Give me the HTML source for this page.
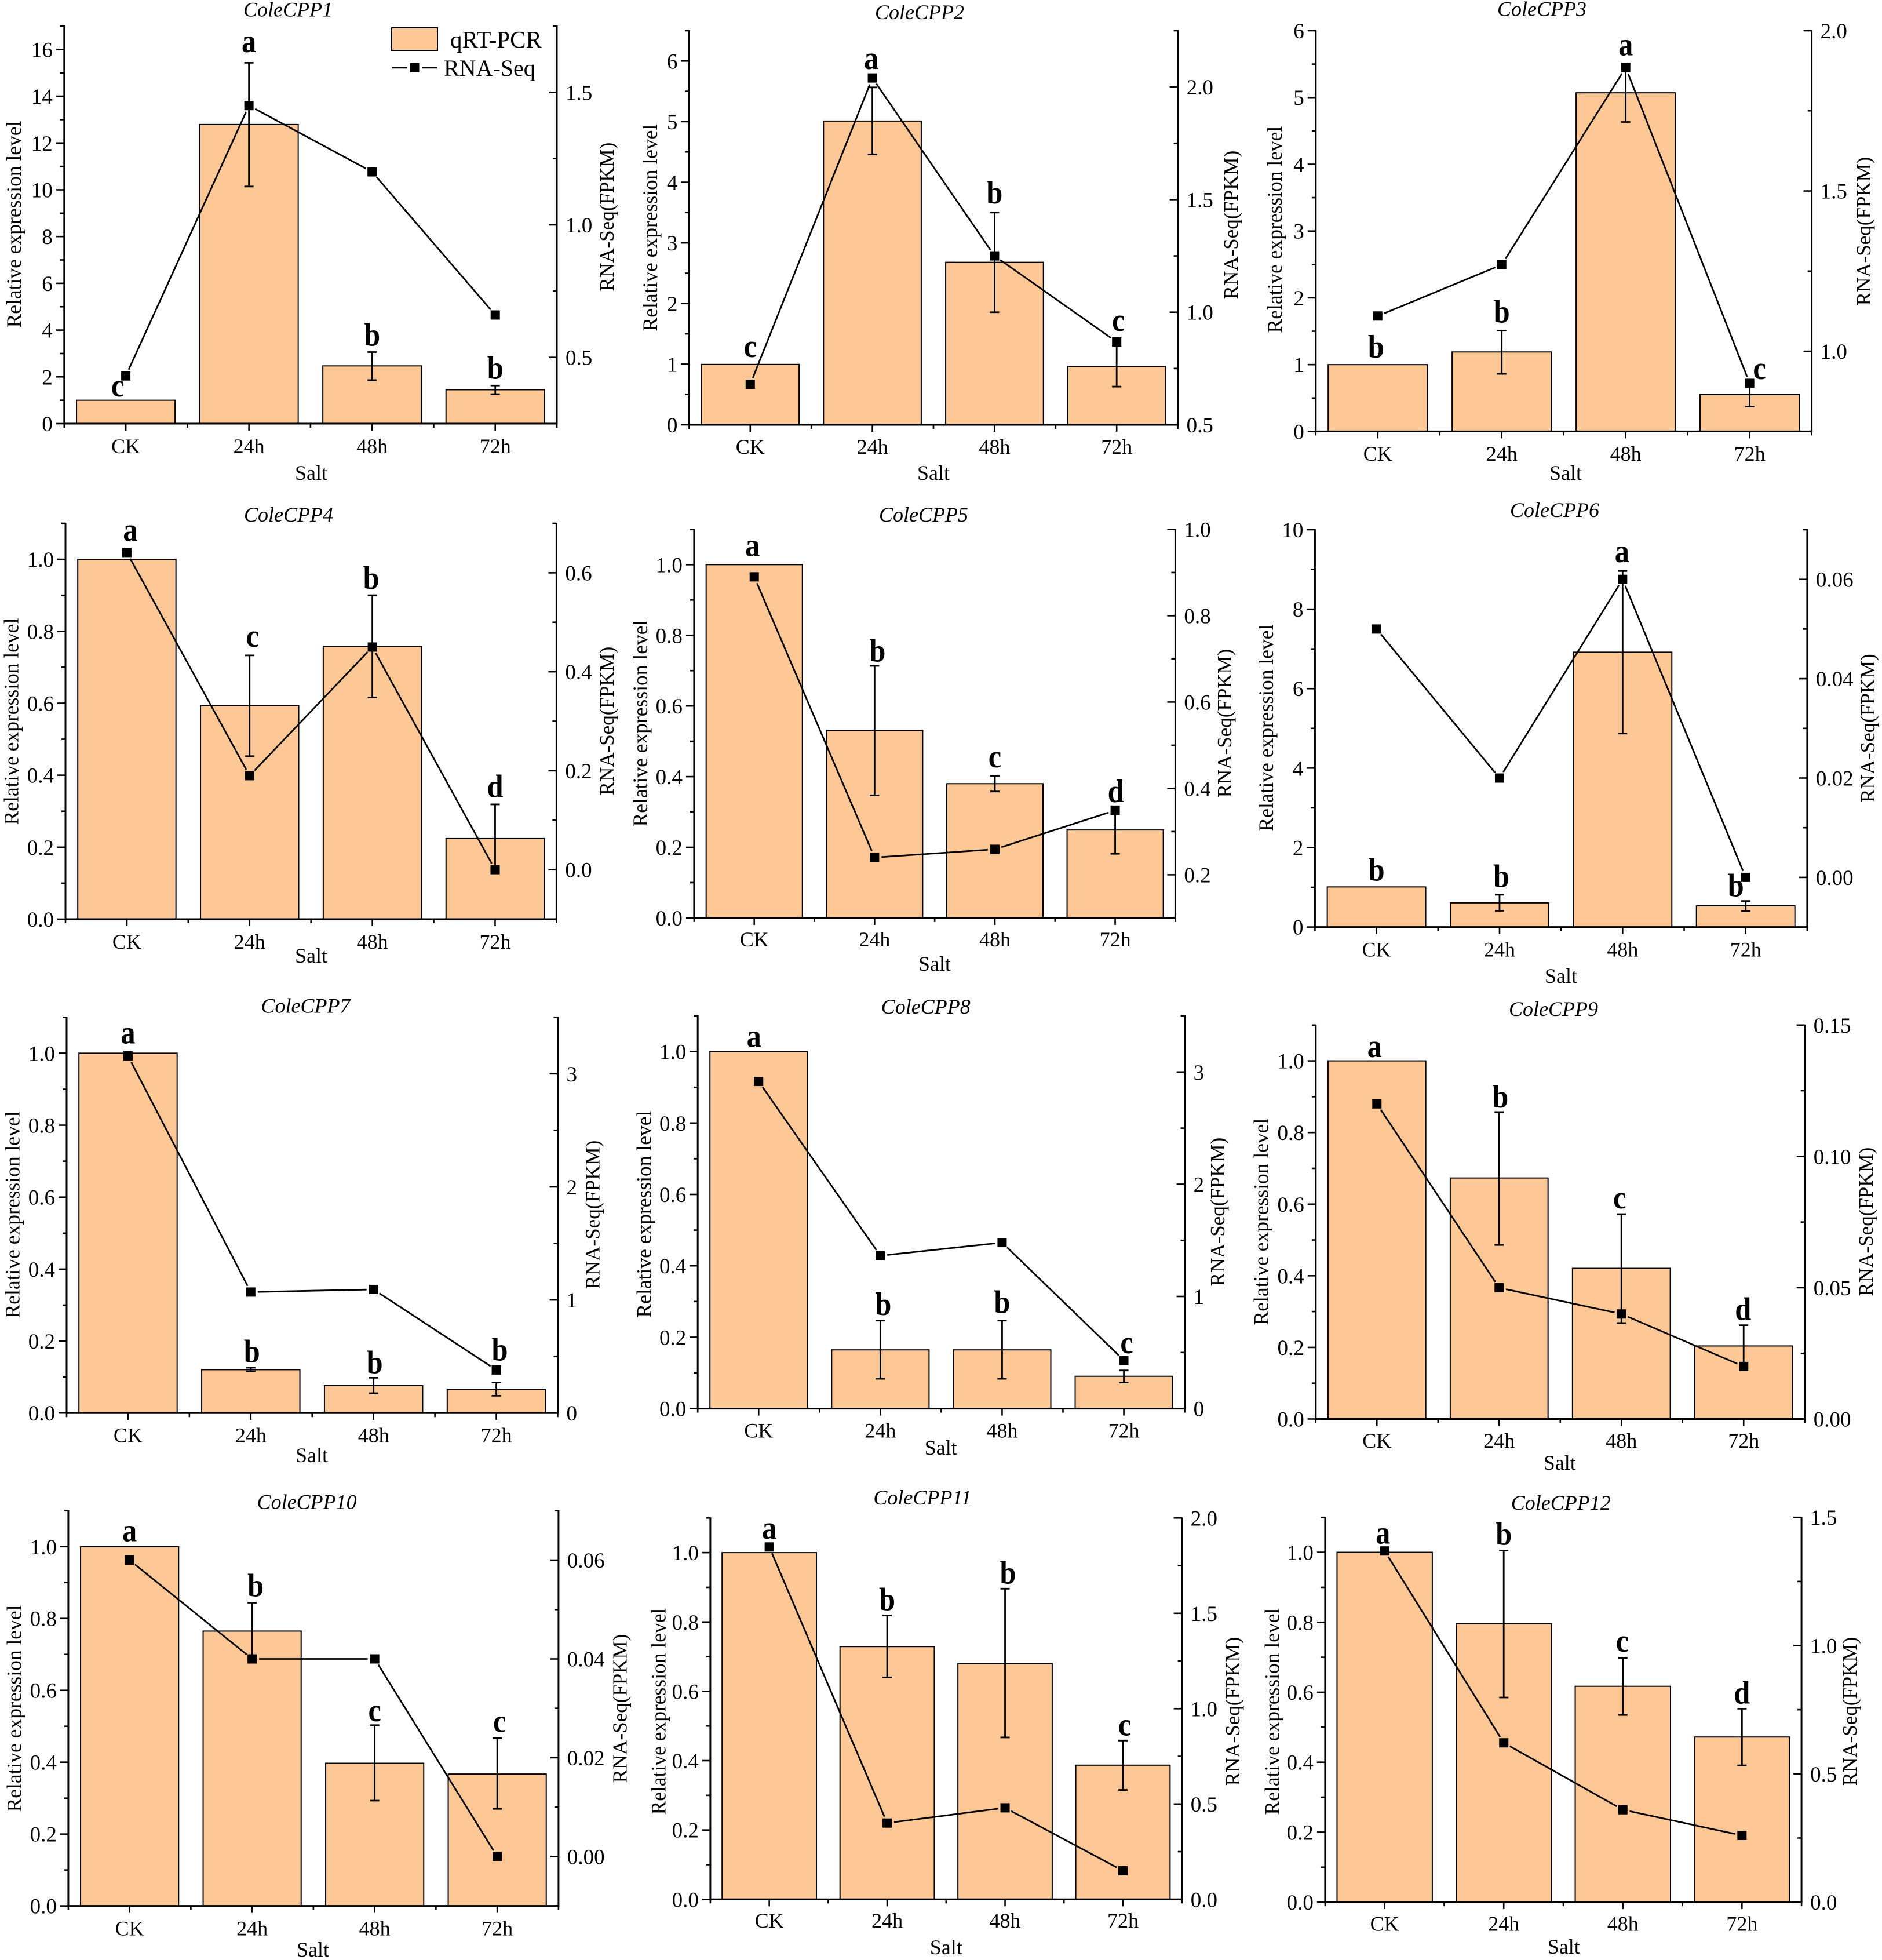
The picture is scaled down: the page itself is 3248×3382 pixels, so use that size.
<!DOCTYPE html>
<html lang="en">
<head>
<meta charset="utf-8">
<title>ColeCPP expression figure</title>
<style>
html,body{margin:0;padding:0;background:#fff;}
svg{display:block;}
text{font-family:"Liberation Serif","Times New Roman",serif;fill:#000;}
</style>
</head>
<body>
<svg id="figure" xmlns="http://www.w3.org/2000/svg" width="3248" height="3382" viewBox="0 0 3248 3382">
<rect x="0" y="0" width="3248" height="3382" fill="#ffffff"/>
<g id="panels"></g>
<g>
  <rect x="676" y="48" width="79" height="39" fill="#FDC896" stroke="#000" stroke-width="2"/>
  <text x="777" y="82" font-size="41">qRT-PCR</text>
  <line x1="676" y1="117" x2="703" y2="117" stroke="#000" stroke-width="2.5"/>
  <line x1="728" y1="117" x2="755" y2="117" stroke="#000" stroke-width="2.5"/>
  <rect x="707.5" y="109" width="16" height="16" fill="#000"/>
  <text x="766" y="131" font-size="40">RNA-Seq</text>
</g>
</svg>
<script>
const categories = ['CK', '24h', '48h', '72h'];

const fracTicks = ['0.0', '0.2', '0.4', '0.6', '0.8', '1.0'];

const leftTicks1 = ['0', '2', '4', '6', '8', '10', '12', '14', '16'];
const rightTicks1 = ['0.5', '1.0', '1.5'];
const qpcr1 = [1, 12.79, 2.47, 1.45];
const errHigh1 = [null, 15.43, 3.06, 1.63];
const errLow1 = [null, 10.14, 1.86, 1.26];
const rna1 = [0.43, 1.45, 1.2, 0.66];
const letters1 = ['c', 'a', 'b', 'b'];
const letterAt1 = [1.16, 15.88, 3.33, 1.92];

const leftTicks2 = ['0', '1', '2', '3', '4', '5', '6'];
const rightTicks2 = ['0.5', '1.0', '1.5', '2.0'];
const qpcr2 = [0.996, 5.01, 2.68, 0.965];
const errHigh2 = [null, 5.565, 3.5, 1.3];
const errLow2 = [null, 4.458, 1.857, 0.63];
const rna2 = [0.68, 2.04, 1.25, 0.868];
const letters2 = ['c', 'a', 'b', 'c'];
const letterAt2 = [1.12, 5.87, 3.65, 1.55];

const leftTicks3 = ['0', '1', '2', '3', '4', '5', '6'];
const rightTicks3 = ['1.0', '1.5', '2.0'];
const qpcr3 = [1, 1.19, 5.07, 0.552];
const errHigh3 = [null, 1.51, 5.51, 0.73];
const errLow3 = [null, 0.862, 4.633, 0.371];
const rna3 = [1.11, 1.27, 1.885, 0.9];
const letters3 = ['b', 'b', 'a', 'c'];
const letterAt3 = [1.105, 1.63, 5.63, 0.786];

const rightTicks4 = ['0.0', '0.2', '0.4', '0.6'];
const qpcr4 = [1, 0.594, 0.758, 0.224];
const errHigh4 = [null, 0.733, 0.9, 0.319];
const errLow4 = [null, 0.453, 0.616, 0.129];
const rna4 = [0.641, 0.19, 0.45, 0];
const letters4 = ['a', 'c', 'b', 'd'];
const letterAt4 = [1.052, 0.757, 0.918, 0.339];

const rightTicks5 = ['0.2', '0.4', '0.6', '0.8', '1.0'];
const qpcr5 = [1, 0.531, 0.38, 0.249];
const errHigh5 = [null, 0.7135, 0.402, 0.316];
const errLow5 = [null, 0.347, 0.358, 0.1815];
const rna5 = [0.89, 0.24, 0.259, 0.349];
const letters5 = ['a', 'b', 'c', 'd'];
const letterAt5 = [1.024, 0.726, 0.426, 0.328];

const leftTicks6 = ['0', '2', '4', '6', '8', '10'];
const rightTicks6 = ['0.00', '0.02', '0.04', '0.06'];
const qpcr6 = [1.01, 0.609, 6.917, 0.537];
const errHigh6 = [null, 0.814, 8.96, 0.656];
const errLow6 = [null, 0.411, 4.87, 0.403];
const rna6 = [0.05, 0.02, 0.06, 0];
const letters6 = ['b', 'b', 'a', 'b'];
const letterAt6 = [1.17, 1.01, 9.18, 0.775];

const rightTicks7 = ['0', '1', '2', '3'];
const qpcr7 = [1, 0.1205, 0.076, 0.066];
const errHigh7 = [null, 0.126, 0.098, 0.085];
const errLow7 = [null, 0.116, 0.055, 0.048];
const rna7 = [3.158, 1.07, 1.093, 0.381];
const letters7 = ['a', 'b', 'b', 'b'];
const letterAt7 = [1.027, 0.1415, 0.111, 0.146];

const rightTicks8 = ['0', '1', '2', '3'];
const qpcr8 = [1, 0.1646, 0.1646, 0.0907];
const errHigh8 = [null, 0.2465, 0.2465, 0.107];
const errLow8 = [null, 0.0836, 0.0836, 0.073];
const rna8 = [2.916, 1.363, 1.48, 0.431];
const letters8 = ['a', 'b', 'b', 'c'];
const letterAt8 = [1.013, 0.262, 0.268, 0.155];

const rightTicks9 = ['0.00', '0.05', '0.10', '0.15'];
const qpcr9 = [1, 0.673, 0.4207, 0.204];
const errHigh9 = [null, 0.857, 0.572, 0.262];
const errLow9 = [null, 0.486, 0.268, 0.146];
const rna9 = [0.12, 0.05, 0.04, 0.02];
const letters9 = ['a', 'b', 'c', 'd'];
const letterAt9 = [1.011, 0.87, 0.588, 0.277];

const rightTicks10 = ['0.00', '0.02', '0.04', '0.06'];
const qpcr10 = [1, 0.765, 0.397, 0.367];
const errHigh10 = [null, 0.844, 0.503, 0.467];
const errLow10 = [null, 0.686, 0.293, 0.27];
const rna10 = [0.06, 0.04, 0.04, 0];
const letters10 = ['a', 'b', 'c', 'c'];
const letterAt10 = [1.015, 0.862, 0.514, 0.484];

const rightTicks11 = ['0.0', '0.5', '1.0', '1.5', '2.0'];
const qpcr11 = [1, 0.729, 0.68, 0.387];
const errHigh11 = [null, 0.819, 0.896, 0.458];
const errLow11 = [null, 0.64, 0.467, 0.3155];
const rna11 = [1.848, 0.4, 0.48, 0.15];
const letters11 = ['a', 'b', 'b', 'c'];
const letterAt11 = [1.04, 0.834, 0.911, 0.473];

const rightTicks12 = ['0.0', '0.5', '1.0', '1.5'];
const qpcr12 = [1, 0.796, 0.617, 0.472];
const errHigh12 = [null, 1.005, 0.698, 0.553];
const errLow12 = [null, 0.585, 0.535, 0.391];
const rna12 = [1.369, 0.621, 0.36, 0.26];
const letters12 = ['a', 'b', 'c', 'd'];
const letterAt12 = [1.025, 1.022, 0.716, 0.568];

const panels = [
  {title:'ColeCPP1', bars:qpcr1, hi:errHigh1, lo:errLow1, rna:rna1, letters:letters1, letterAt:letterAt1, leftTicks:leftTicks1, rightTicks:rightTicks1, leftRange:[0,17], rightRange:[0.25,1.75], leftMinor:1, rightMinor:0.25},
  {title:'ColeCPP2', bars:qpcr2, hi:errHigh2, lo:errLow2, rna:rna2, letters:letters2, letterAt:letterAt2, leftTicks:leftTicks2, rightTicks:rightTicks2, leftRange:[0,6.5], rightRange:[0.5,2.25], leftMinor:0.5, rightMinor:0.25},
  {title:'ColeCPP3', bars:qpcr3, hi:errHigh3, lo:errLow3, rna:rna3, letters:letters3, letterAt:letterAt3, leftTicks:leftTicks3, rightTicks:rightTicks3, leftRange:[0,6], rightRange:[0.75,2], leftMinor:0.5, rightMinor:0.25},
  {title:'ColeCPP4', bars:qpcr4, hi:errHigh4, lo:errLow4, rna:rna4, letters:letters4, letterAt:letterAt4, leftTicks:fracTicks, rightTicks:rightTicks4, leftRange:[0,1.1], rightRange:[-0.1,0.7], leftMinor:0.1, rightMinor:0.1},
  {title:'ColeCPP5', bars:qpcr5, hi:errHigh5, lo:errLow5, rna:rna5, letters:letters5, letterAt:letterAt5, leftTicks:fracTicks, rightTicks:rightTicks5, leftRange:[0,1.1], rightRange:[0.1,1], leftMinor:0.1, rightMinor:0.1},
  {title:'ColeCPP6', bars:qpcr6, hi:errHigh6, lo:errLow6, rna:rna6, letters:letters6, letterAt:letterAt6, leftTicks:leftTicks6, rightTicks:rightTicks6, leftRange:[0,10], rightRange:[-0.01,0.07], leftMinor:1, rightMinor:0.01},
  {title:'ColeCPP7', bars:qpcr7, hi:errHigh7, lo:errLow7, rna:rna7, letters:letters7, letterAt:letterAt7, leftTicks:fracTicks, rightTicks:rightTicks7, leftRange:[0,1.1], rightRange:[0,3.5], leftMinor:0.1, rightMinor:0.5},
  {title:'ColeCPP8', bars:qpcr8, hi:errHigh8, lo:errLow8, rna:rna8, letters:letters8, letterAt:letterAt8, leftTicks:fracTicks, rightTicks:rightTicks8, leftRange:[0,1.1], rightRange:[0,3.5], leftMinor:0.1, rightMinor:0.5},
  {title:'ColeCPP9', bars:qpcr9, hi:errHigh9, lo:errLow9, rna:rna9, letters:letters9, letterAt:letterAt9, leftTicks:fracTicks, rightTicks:rightTicks9, leftRange:[0,1.1], rightRange:[0,0.15], leftMinor:0.1, rightMinor:0.025},
  {title:'ColeCPP10', bars:qpcr10, hi:errHigh10, lo:errLow10, rna:rna10, letters:letters10, letterAt:letterAt10, leftTicks:fracTicks, rightTicks:rightTicks10, leftRange:[0,1.1], rightRange:[-0.01,0.07], leftMinor:0.1, rightMinor:0.01},
  {title:'ColeCPP11', bars:qpcr11, hi:errHigh11, lo:errLow11, rna:rna11, letters:letters11, letterAt:letterAt11, leftTicks:fracTicks, rightTicks:rightTicks11, leftRange:[0,1.1], rightRange:[0,2], leftMinor:0.1, rightMinor:0.25},
  {title:'ColeCPP12', bars:qpcr12, hi:errHigh12, lo:errLow12, rna:rna12, letters:letters12, letterAt:letterAt12, leftTicks:fracTicks, rightTicks:rightTicks12, leftRange:[0,1.1], rightRange:[0,1.5], leftMinor:0.1, rightMinor:0.25}
];

/* page layout of each panel, in pixels (frame, titles, letter nudges) */
const layouts = [
  {L:110.8,R:961,T:45,B:731,titleX:497,titleY:28.5,leftX:36,leftY:387,rightX:1059,rightY:374,saltX:537,saltY:828,tickY:782,nudge:[-14,0,0,0]},
  {L:1189.4,R:2032.6,T:53,B:733,titleX:1587,titleY:33,leftX:1134,leftY:393,rightX:2136,rightY:388,saltX:1611,saltY:828,tickY:783,nudge:[0,-2,0,3]},
  {L:2270.8,R:3126.6,T:53,B:744.4,titleX:2661,titleY:27.4,leftX:2212,leftY:396,rightX:3228,rightY:399,saltX:2702,saltY:828,tickY:795,nudge:[-3,0,0,17]},
  {L:113,R:960.4,T:903,B:1586,titleX:498,titleY:900,leftX:31.6,leftY:1245,rightX:1059,rightY:1244,saltX:537,saltY:1661,tickY:1637,nudge:[6,5,-2,0]},
  {L:1197.9,R:2028.4,T:913.4,B:1583.9,titleX:1594,titleY:900,leftX:1117,leftY:1248,rightX:2125,rightY:1248,saltX:1613,saltY:1675,tickY:1633,nudge:[-3,5,0,1]},
  {L:2269.4,R:3118.9,T:914,B:1599.6,titleX:2683,titleY:892,leftX:2197,leftY:1256,rightX:3235,rightY:1256.5,saltX:2694,saltY:1696,tickY:1650.5,nudge:[0,3,-1,-17]},
  {L:115,R:962.5,T:1755.3,B:2438.2,titleX:527.5,titleY:1747.7,leftX:33.7,leftY:2096,rightX:1034.7,rightY:2096,saltX:538,saltY:2522.8,tickY:2488.6,nudge:[0,2,2,6]},
  {L:1204.2,R:2044.6,T:1753,B:2430.6,titleX:1597.7,titleY:1748.8,leftX:1123.5,leftY:2095,rightX:2113,rightY:2091,saltX:1623.7,saltY:2510,tickY:2480.5,nudge:[-8,5,0,5]},
  {L:2270.8,R:3114.7,T:1768.8,B:2448.5,titleX:2681,titleY:1753,leftX:2188.7,leftY:2108,rightX:3231.8,rightY:2108,saltX:2691.7,saltY:2536,tickY:2498,nudge:[-4,2,-3,-1]},
  {L:117.9,R:963.9,T:2606.8,B:3288.6,titleX:529.6,titleY:2603.5,leftX:36.5,leftY:2948,rightX:1081.7,rightY:2948,saltX:540,saltY:3376,tickY:3339.6,nudge:[0,6,0,4]},
  {L:1225.9,R:2039.7,T:2619.3,B:3277.3,titleX:1592,titleY:2596,leftX:1148.7,leftY:2953,rightX:2139,rightY:2953,saltX:1632.8,saltY:3372,tickY:3326,nudge:[0,0,5,3]},
  {L:2286.9,R:3109.1,T:2618.2,B:3282.1,titleX:2693.8,titleY:2605,leftX:2207.6,leftY:2953,rightX:3203.8,rightY:2953,saltX:2698.7,saltY:3371,tickY:3331.5,nudge:[-3,0,-1,0]}
];

const NS = 'http://www.w3.org/2000/svg';
const BAR_FILL = '#FDC896';

function shape(tag, props, parent) {
  const node = document.createElementNS(NS, tag);
  for (const key in props) node.setAttribute(key, props[key]);
  parent.appendChild(node);
  return node;
}

function linearScale(domain, lowPx, highPx) {
  return function (v) {
    return lowPx + (v - domain[0]) / (domain[1] - domain[0]) * (highPx - lowPx);
  };
}

function tickValues(range, step) {
  const out = [];
  const first = Math.ceil(range[0] / step - 1e-6);
  const last = Math.floor(range[1] / step + 1e-6);
  for (let k = first; k <= last; k++) out.push(k * step);
  return out;
}

function isMajor(v, labels) {
  return labels.some(function (t) { return Math.abs(parseFloat(t) - v) < 1e-6; });
}

const root = document.getElementById('panels');

panels.forEach(function (p, n) {
  const f = layouts[n];
  const band = (f.R - f.L) / categories.length;
  const xAt = function (i) { return f.L + (i + 0.5) * band; };
  const yLeft = linearScale(p.leftRange, f.B, f.T);
  const yRight = linearScale(p.rightRange, f.B, f.T);

  const g = shape('g', {}, root);
  
  

  /* bars */
  p.bars.forEach(function (v, i) {
    const w = band * 0.8;
    const bar = shape('rect', {x: xAt(i) - w / 2, y: yLeft(v), width: w, height: f.B - yLeft(v), fill: BAR_FILL, stroke: '#000', 'stroke-width': 2}, g);
    
    
  });

  /* error bars */
  p.hi.forEach(function (v, i) {
    if (v === null) return;
    const top = yLeft(v);
    const bottom = yLeft(p.lo[i]);
    const err = shape('path', {d: 'M' + (xAt(i) - 8) + ' ' + top + 'H' + (xAt(i) + 8) + 'M' + xAt(i) + ' ' + top + 'V' + bottom + 'M' + (xAt(i) - 8) + ' ' + bottom + 'H' + (xAt(i) + 8), fill: 'none', stroke: '#000', 'stroke-width': 2.8}, g);
    
    
  });

  /* axes */
  const leftAxis = shape('line', {x1: f.L, y1: f.T - 1, x2: f.L, y2: f.B + 1.5, stroke: '#000', 'stroke-width': 3}, g);
  
  
  const rightAxis = shape('line', {x1: f.R, y1: f.T - 1, x2: f.R, y2: f.B + 1.5, stroke: '#000', 'stroke-width': 3}, g);
  
  
  const bottomAxis = shape('line', {x1: f.L - 1.5, y1: f.B, x2: f.R + 1.5, y2: f.B, stroke: '#000', 'stroke-width': 3}, g);
  
  

  /* left ticks */
  tickValues(p.leftRange, p.leftMinor).forEach(function (v) {
    const major = isMajor(v, p.leftTicks);
    const len = major ? 14 : 7;
    const tick = shape('line', {x1: f.L - len, y1: yLeft(v), x2: f.L, y2: yLeft(v), stroke: '#000', 'stroke-width': 2.6}, g);
    
    
  });
  p.leftTicks.forEach(function (t) {
    const label = shape('text', {x: f.L - 20, y: yLeft(parseFloat(t)) + 13, 'font-size': 37, 'text-anchor': 'end'}, g);
    label.textContent = t;
    
    
  });

  /* right ticks, pointing inward */
  tickValues(p.rightRange, p.rightMinor).forEach(function (v) {
    const major = isMajor(v, p.rightTicks);
    const len = major ? 14 : 7;
    const tick = shape('line', {x1: f.R - len, y1: yRight(v), x2: f.R, y2: yRight(v), stroke: '#000', 'stroke-width': 2.6}, g);
    
    
  });
  p.rightTicks.forEach(function (t) {
    const label = shape('text', {x: f.R + 15, y: yRight(parseFloat(t)) + 13, 'font-size': 37}, g);
    label.textContent = t;
    
    
  });

  /* x ticks and category labels */
  categories.forEach(function (c, i) {
    const tick = shape('line', {x1: xAt(i), y1: f.B, x2: xAt(i), y2: f.B + 12, stroke: '#000', 'stroke-width': 2.6}, g);
    
    
    const label = shape('text', {x: xAt(i), y: f.tickY, 'font-size': 36, 'text-anchor': 'middle'}, g);
    label.textContent = c;
    
    
  });
  for (let i = 0; i <= categories.length; i++) {
    const minor = shape('line', {x1: f.L + i * band, y1: f.B, x2: f.L + i * band, y2: f.B + 7, stroke: '#000', 'stroke-width': 2.6}, g);
    
    
  }

  /* RNA-Seq line, with a small gap at each marker */
  for (let i = 0; i < p.rna.length - 1; i++) {
    const x1 = xAt(i), y1 = yRight(p.rna[i]), x2 = xAt(i + 1), y2 = yRight(p.rna[i + 1]);
    const d = Math.hypot(x2 - x1, y2 - y1);
    const gap = Math.min(12, d / 2) / d;
    const seg = shape('line', {x1: x1 + (x2 - x1) * gap, y1: y1 + (y2 - y1) * gap, x2: x2 - (x2 - x1) * gap, y2: y2 - (y2 - y1) * gap, stroke: '#000', 'stroke-width': 2.8}, g);
    
    
  }
  p.rna.forEach(function (v, i) {
    const point = shape('rect', {x: xAt(i) - 8, y: yRight(v) - 8, width: 16, height: 16, fill: '#000'}, g);
    
    
  });

  /* significance letters */
  p.letters.forEach(function (l, i) {
    const mark = shape('text', {transform: 'translate(' + (xAt(i) + f.nudge[i]) + ' ' + yLeft(p.letterAt[i]) + ') scale(0.9 1)', 'font-size': 56, 'font-weight': 'bold', 'text-anchor': 'middle'}, g);
    mark.textContent = l;
    
    
  });

  /* titles */
  const title = shape('text', {x: f.titleX, y: f.titleY, 'font-size': 36, 'font-style': 'italic', 'text-anchor': 'middle'}, g);
  title.textContent = p.title;
  
  

  const yTitle = shape('text', {x: f.leftX, y: f.leftY, 'font-size': 35.5, 'text-anchor': 'middle', transform: 'rotate(-90 ' + f.leftX + ' ' + f.leftY + ')'}, g);
  yTitle.textContent = 'Relative expression level';
  
  

  const rTitle = shape('text', {x: f.rightX, y: f.rightY, 'font-size': 35, 'text-anchor': 'middle', transform: 'rotate(-90 ' + f.rightX + ' ' + f.rightY + ')'}, g);
  rTitle.textContent = 'RNA-Seq(FPKM)';
  
  

  const xTitle = shape('text', {x: f.saltX, y: f.saltY, 'font-size': 36, 'text-anchor': 'middle'}, g);
  xTitle.textContent = 'Salt';
  
  
});
</script>
</body>
</html>
